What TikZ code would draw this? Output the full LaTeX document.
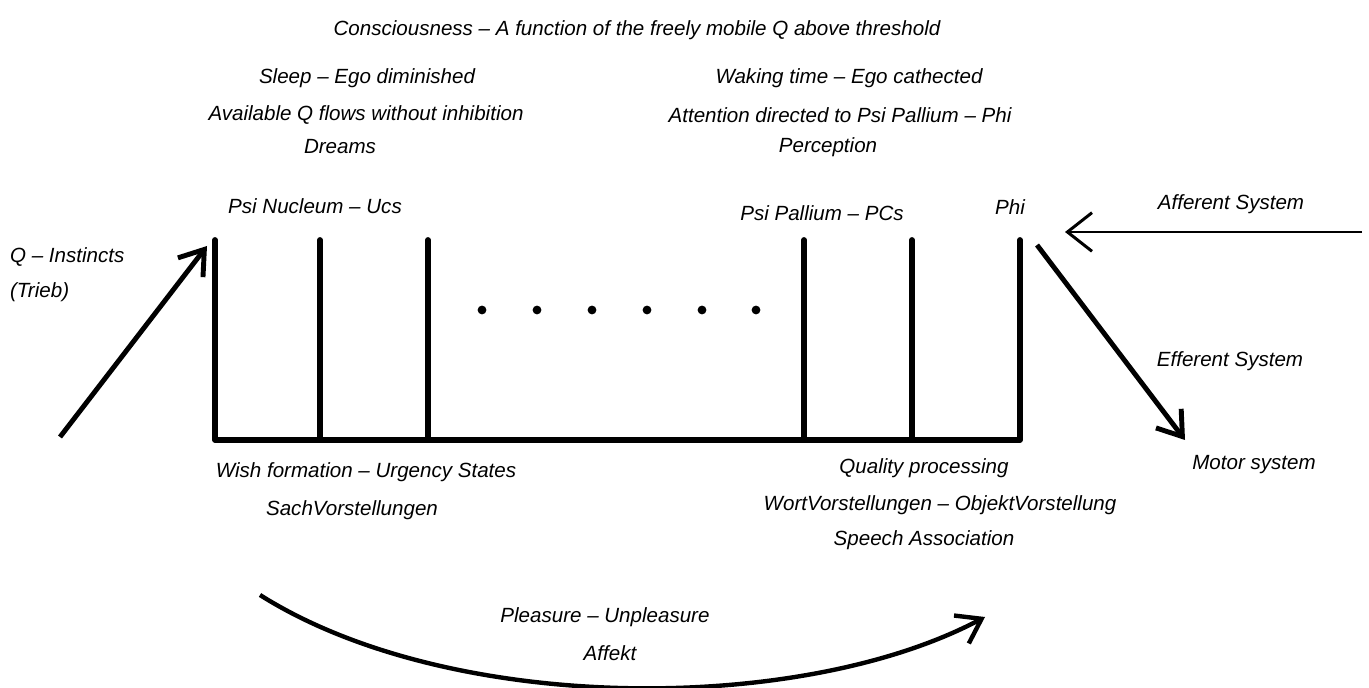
\documentclass[tikz,border=0pt]{standalone}
\usepackage{fontspec}
\setmainfont{Liberation Sans}
\usetikzlibrary{arrows.meta,calc}

\tikzset{
  lbl/.style={font=\itshape\fontsize{11.7}{13}\selectfont, inner sep=1pt},
  wall/.style={line width=3.3pt, line cap=round, line join=round},
  flow/.style={line width=2.8pt, -{Straight Barb[length=13pt,width=18pt]}},
}

\begin{document}
\begin{tikzpicture}[x=0.02cm, y=-0.02cm]
    \useasboundingbox (0,0) rectangle (1369,688);

    % Heading
    \node[lbl] (consc) at (637,30) {Consciousness -- A function of the freely mobile Q above threshold};

    % Sleep side
    \node[lbl] (sleep) at (367,78) {Sleep -- Ego diminished};
    \node[lbl] (avail) at (366,115) {Available Q flows without inhibition};
    \node[lbl] (dreams) at (340,147) {Dreams};

    % Waking side
    \node[lbl] (waking) at (849,78) {Waking time -- Ego cathected};
    \node[lbl] (attn) at (840,115) {Attention directed to Psi Pallium -- Phi};
    \node[lbl] (percep) at (828,147) {Perception};

    % System names
    \node[lbl] (nucleum) at (315,206) {Psi Nucleum -- Ucs};
    \node[lbl] (pallium) at (822,213) {Psi Pallium -- PCs};
    \node[lbl] (phi) at (1010,207) {Phi};

    % Walls of the apparatus
    \coordinate (nucTop) at (215,240);
    \coordinate (nucBot) at (215,440);
    \coordinate (phiTop) at (1020,240);
    \coordinate (phiBot) at (1020,440);
    \draw[wall] (nucTop) -- (nucBot) -- (phiBot) -- (phiTop);
    \foreach \x in {320,428,804,912}
        \draw[wall] (\x,240) -- (\x,440);

    % Dots
    \foreach \x in {482,537,592,647,702,756}
        \fill (\x,310) circle (2.5pt);

    % Instincts
    \node[lbl, anchor=west] (instinct) at (8,257) {Q -- Instincts};
    \node[lbl, anchor=west] (trieb) at (8,292) {(Trieb)};
    \coordinate (qTail) at (60,437);
    \coordinate (qHead) at (207,246);
    \draw[flow] (qTail) -- (qHead);

    % Afferent and efferent
    \node[lbl] (afferent) at (1231,204) {Afferent System};
    \coordinate (affTail) at (1362,232);
    \coordinate (affHead) at (1065,232);
    \draw[line width=1.7pt, -{Straight Barb[length=14pt,width=22pt]}] (affTail) -- (affHead);

    \node[lbl] (efferent) at (1230,361) {Efferent System};
    \node[lbl] (motor) at (1254,465) {Motor system};
    \coordinate (effTail) at (1037,245);
    \coordinate (effHead) at (1185,440);
    \draw[flow] (effTail) -- (effHead);

    % Lower labels
    \node[lbl] (wish) at (366,472) {Wish formation -- Urgency States};
    \node[lbl] (sach) at (352,510) {SachVorstellungen};
    \node[lbl] (quality) at (924,468) {Quality processing};
    \node[lbl] (wort) at (940,505) {WortVorstellungen -- ObjektVorstellung};
    \node[lbl] (speech) at (924,540) {Speech Association};

    % Affect curve
    \node[lbl] (pleasure) at (605,617) {Pleasure -- Unpleasure};
    \node[lbl] (affekt) at (610,653) {Affekt};
    \coordinate (curveTail) at (260,595);
    \coordinate (curveHead) at (985,617);
    \draw[line width=2.5pt, -{Straight Barb[length=13pt,width=18pt]}]
        (curveTail) .. controls (450,715) and (800,715) .. (curveHead);
\end{tikzpicture}
\end{document}
